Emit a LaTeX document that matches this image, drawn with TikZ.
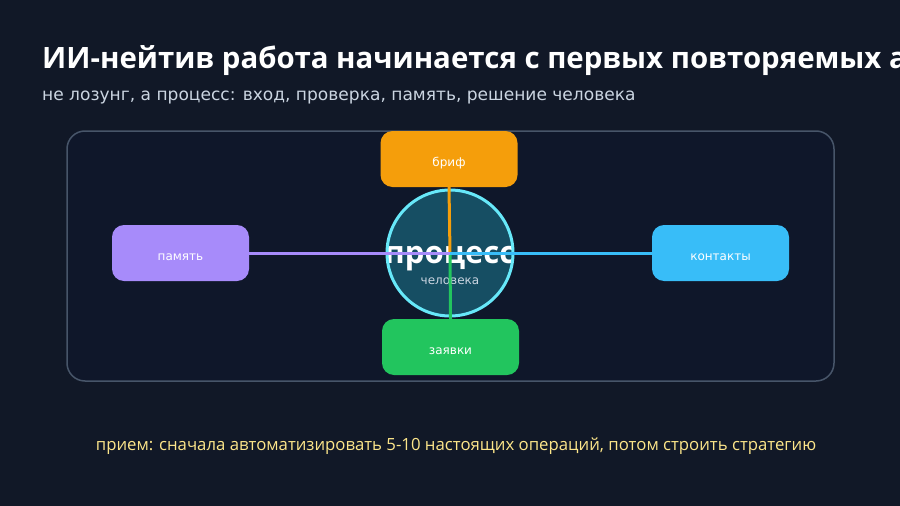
\documentclass[tikz,border=0pt]{standalone}
\usepackage{fontspec}
\setmainfont{DejaVu Sans}
\newfontfamily\opensans{Open Sans}
\definecolor{bg}{HTML}{111827}
\definecolor{panel}{HTML}{0F172A}
\definecolor{frame}{HTML}{475569}
\definecolor{cfill}{HTML}{164E63}
\definecolor{cline}{HTML}{67E8F9}
\definecolor{orange}{HTML}{F59E0B}
\definecolor{green}{HTML}{22C55E}
\definecolor{purple}{HTML}{A78BFA}
\definecolor{blue}{HTML}{38BDF8}
\definecolor{sub}{HTML}{CBD5E1}
\definecolor{note}{HTML}{FDE68A}
\begin{document}
\begin{tikzpicture}[x=1pt,y=-1pt,
  box/.style={rounded corners=12pt,minimum width=137pt,minimum height=56pt,inner sep=0pt,
    text height=14pt,text depth=0pt,text=white,font=\fontsize{12}{14}\selectfont},
  link/.style={line width=3pt}]
\useasboundingbox (0,0) rectangle (900,506);
\clip (0,0) rectangle (900,506);
\fill[bg] (0,0) rectangle (900,506);
\node[anchor=base west,text=white,font=\opensans\fontsize{29.4}{34}\bfseries\selectfont,inner sep=0pt] (title) at (42,68) {ИИ-нейтив работа начинается с первых повторяемых актов};
\node[anchor=base west,text=sub,font=\fontsize{17.05}{20}\selectfont,inner sep=0pt] (subtitle) at (42,100) {не лозунг, а процесс: вход, проверка, память, решение человека};
\draw[frame,fill=panel,line width=1.5pt,rounded corners=18pt] (67,131) rectangle (834,381);
\node[circle,fill=cfill,minimum size=127pt,inner sep=0pt] (c) at (450,253) {};
\begin{scope}
\clip (450,253) circle (63.5pt);
\node[anchor=base,text=white,font=\opensans\fontsize{31}{31}\bfseries\selectfont,inner sep=0pt] (proc) at (450,263) {процесс};
\end{scope}
\draw[cline,line width=3pt] (450,253) circle (63pt);
\node[anchor=base,text=sub,font=\fontsize{12}{14}\selectfont,inner sep=0pt] (chel) at (450,284) {человека};
\node[box,fill=orange] (brief) at (449,159) {бриф};
\node[box,fill=green] (zayav) at (450.5,347) {заявки};
\node[box,fill=purple] (mem) at (180.5,253) {память};
\node[box,fill=blue] (cont) at (720.5,253) {контакты};
\draw[link,orange] (brief.south) -- (c.center);
\draw[link,green] (c.center) -- (zayav.north);
\draw[link,purple] (mem.east) -- (c.center);
\draw[link,blue] (c.center) -- (cont.west);
\node[anchor=base,text=note,font=\opensans\fontsize{16.75}{18}\selectfont,inner sep=0pt] (tip) at (456,450) {прием: сначала автоматизировать 5-10 настоящих операций, потом строить стратегию};
\end{tikzpicture}
\end{document}
